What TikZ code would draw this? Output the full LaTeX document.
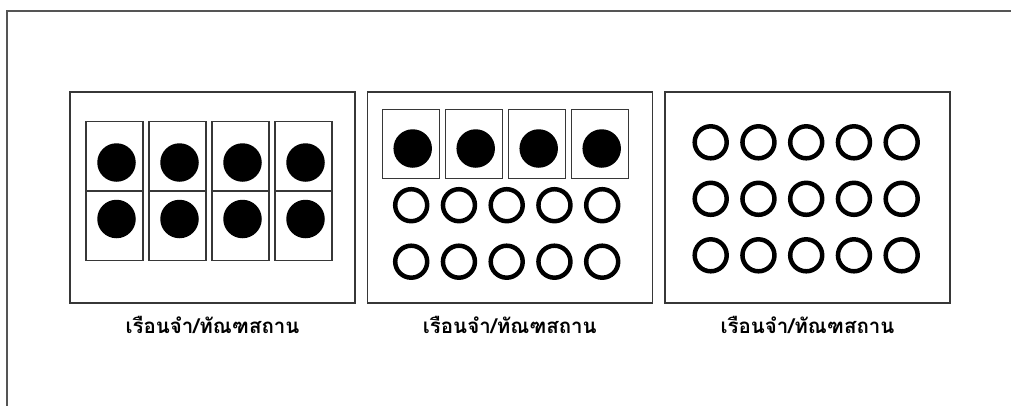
\documentclass[tikz,border=0pt]{standalone}
\usepackage{fontspec}
\newfontfamily\thaifont[Script=Thai]{Loma}
\usetikzlibrary{positioning}
\definecolor{framegray}{RGB}{85, 85, 85}
\definecolor{boxgray}{RGB}{55, 55, 55}
\newlength{\carddist}
\setlength{\carddist}{6pt}
\newlength{\ringdist}
\setlength{\ringdist}{15.75pt}
\newlength{\rowdist}
\setlength{\rowdist}{24.5pt}

\begin{document}
\begin{tikzpicture}[x=1pt, y=-1pt,
	panel/.style={rectangle, draw=boxgray, line width=1.4pt, minimum width=285pt, minimum height=211pt, inner sep=0pt, outer sep=0pt, anchor=north west},
	card/.style={rectangle, draw=boxgray, line width=1.3pt, minimum width=57pt, minimum height=69pt, inner sep=0pt, outer sep=0pt},
	dot/.style={circle, fill=black, minimum size=38.5pt, inner sep=0pt},
	ring/.style={circle, draw=black, line width=4.5pt, minimum size=32pt, inner sep=0pt, outer sep=0pt},
	panelcaption/.style={anchor=base, font=\thaifont\bfseries\fontsize{20.5pt}{23pt}\selectfont}]

\useasboundingbox (0,0) rectangle (1011,405);
\fill[white] (0,0) rectangle (1011,405);
\clip (0,0) rectangle (1011,405);
\draw[framegray, line width=2pt] (7,11) rectangle (1040,440);

% panel 1: eight cards
\node[panel](p1) at (70,92){};
\node[card](a1)[below right=29.5pt and 16pt of p1.north west]{};
\node[card](a2)[right=\carddist of a1]{};
\node[card](a3)[right=\carddist of a2]{};
\node[card](a4)[right=\carddist of a3]{};
\node[card](a5)[below=1pt of a1]{};
\node[card](a6)[below=1pt of a2]{};
\node[card](a7)[below=1pt of a3]{};
\node[card](a8)[below=1pt of a4]{};
\node[dot](d1) at ([xshift=2pt, yshift=-6.5pt]a1.center){};
\node[dot](d2) at ([xshift=2pt, yshift=-6.5pt]a2.center){};
\node[dot](d3) at ([xshift=2pt, yshift=-6.5pt]a3.center){};
\node[dot](d4) at ([xshift=2pt, yshift=-6.5pt]a4.center){};
\node[dot](d5) at ([xshift=2pt, yshift=7pt]a5.center){};
\node[dot](d6) at ([xshift=2pt, yshift=7pt]a6.center){};
\node[dot](d7) at ([xshift=2pt, yshift=7pt]a7.center){};
\node[dot](d8) at ([xshift=2pt, yshift=7pt]a8.center){};
\node[panelcaption](t1) at ([yshift=-30.5pt]p1.south){เรือนจำ/ทัณฑสถาน};

% panel 2: four cards and ten rings
\node[panel](p2) at (367.3,92){};
\node[card](b1)[below right=17.5pt and 15.4pt of p2.north west]{};
\node[card](b2)[right=\carddist of b1]{};
\node[card](b3)[right=\carddist of b2]{};
\node[card](b4)[right=\carddist of b3]{};
\node[dot](e1) at ([xshift=1.5pt, yshift=-4.5pt]b1.center){};
\node[dot](e2) at ([xshift=1.5pt, yshift=-4.5pt]b2.center){};
\node[dot](e3) at ([xshift=1.5pt, yshift=-4.5pt]b3.center){};
\node[dot](e4) at ([xshift=1.5pt, yshift=-4.5pt]b4.center){};
\node[ring](r1)[below=10.7pt of b1]{};
\node[ring](r2)[right=\ringdist of r1]{};
\node[ring](r3)[right=\ringdist of r2]{};
\node[ring](r4)[right=\ringdist of r3]{};
\node[ring](r5)[right=\ringdist of r4]{};
\node[ring](r6)[below=\rowdist of r1]{};
\node[ring](r7)[right=\ringdist of r6]{};
\node[ring](r8)[right=\ringdist of r7]{};
\node[ring](r9)[right=\ringdist of r8]{};
\node[ring](r10)[right=\ringdist of r9]{};
\node[panelcaption](t2) at ([yshift=-30.5pt]p2.south){เรือนจำ/ทัณฑสถาน};

% panel 3: fifteen rings
\node[panel](p3) at (665,92){};
\node[ring](s1) at ([xshift=45.7pt, yshift=-50.3pt]p3.north west){};
\node[ring](s2)[right=\ringdist of s1]{};
\node[ring](s3)[right=\ringdist of s2]{};
\node[ring](s4)[right=\ringdist of s3]{};
\node[ring](s5)[right=\ringdist of s4]{};
\node[ring](s6)[below=\rowdist of s1]{};
\node[ring](s7)[right=\ringdist of s6]{};
\node[ring](s8)[right=\ringdist of s7]{};
\node[ring](s9)[right=\ringdist of s8]{};
\node[ring](s10)[right=\ringdist of s9]{};
\node[ring](s11)[below=\rowdist of s6]{};
\node[ring](s12)[right=\ringdist of s11]{};
\node[ring](s13)[right=\ringdist of s12]{};
\node[ring](s14)[right=\ringdist of s13]{};
\node[ring](s15)[right=\ringdist of s14]{};
\node[panelcaption](t3) at ([yshift=-30.5pt]p3.south){เรือนจำ/ทัณฑสถาน};

\end{tikzpicture}
\end{document}
